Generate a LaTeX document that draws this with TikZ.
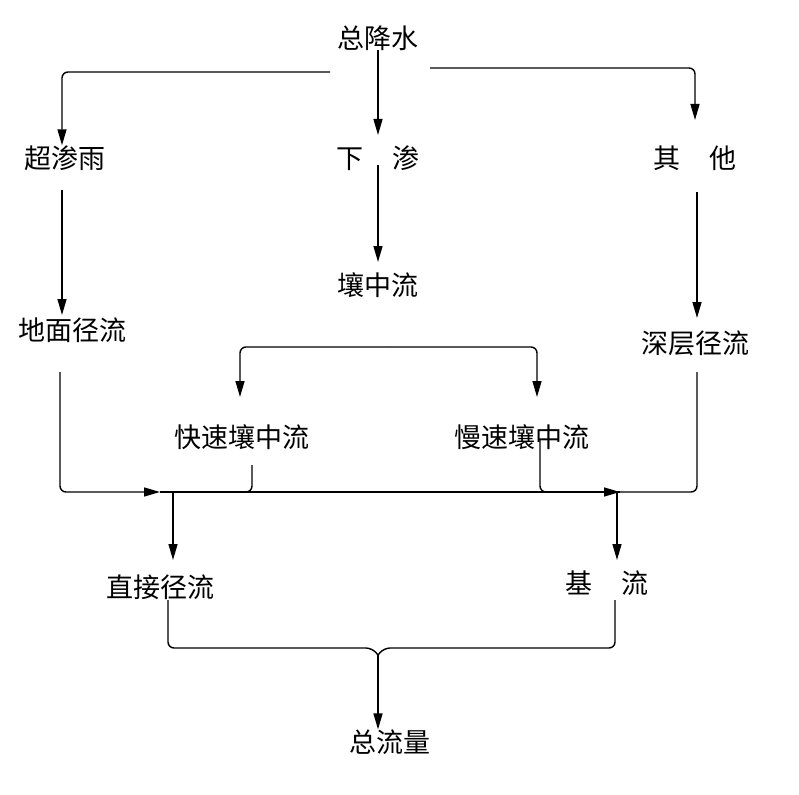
\documentclass[tikz,border=0pt]{standalone}
\usepackage{fontspec}
\setmainfont{Noto Sans CJK SC}
\usetikzlibrary{arrows.meta}
\begin{document}
\begin{tikzpicture}[x=1pt,y=-1pt,
  t/.style={font=\fontsize{27}{30}\selectfont,inner sep=0pt},
  ln/.style={line width=1.4pt,rounded corners=6pt},
  ar/.style={ln,-{Triangle[length=16pt,width=9pt]}}]
\useasboundingbox (0,0) rectangle (799,794);
\node[t] (tot) at (378,38) {总降水};
\node[t] (cs) at (65,158) {超渗雨};
\node[t] (xs) at (378,158) {下\hspace{1.1em}渗};
\node[t] (qt) at (695,158) {其\hspace{1.1em}他};
\node[t] (dm) at (72,330) {地面径流};
\node[t] (rz) at (378,285) {壤中流};
\node[t] (sc) at (695,343) {深层径流};
\node[t] (ks) at (242,437) {快速壤中流};
\node[t] (ms) at (522,437) {慢速壤中流};
\node[t] (zj) at (160,587) {直接径流};
\node[t] (jl) at (607,583) {基\hspace{1.1em}流};
\node[t] (zl) at (390,742) {总流量};
\coordinate (a1) at (330,72); \coordinate (a2) at (430,68);
\coordinate (lt) at (160,492); \coordinate (rt) at (620,492);
\coordinate (bt) at (378,655);
\draw[ar] (a1) -- (62,72) -- (cs.north -| 62,0);
\draw[ar] (378,50) -- (378,135);
\draw[ar] (a2) -- (695,68) -- (695,120);
\draw[ar] (62,190) -- (62,315);
\draw[ar] (378,165) -- (378,262);
\draw[ar] (697,192) -- (697,318);
\draw[ar] (390,347) -- (240,347) -- (240,397);
\draw[ar] (390,347) -- (537,347) -- (537,397);
\draw[ar] (60,372) -- (60,492) -- (lt);
\draw[ln] (252,465) -- (252,492) -- (240,492);
\draw[ln] (lt) -- (rt);
\draw[ar] (540,440) -- (540,492) -- (rt);
\draw[ln] (697,372) -- (697,492) -- (rt);
\draw[ar] (173,492) -- (173,560);
\draw[ar] (617,492) -- (617,560);
\draw[ln] (168,600) -- (168,648) -- (372,648) -- (bt);
\draw[ln] (615,600) -- (615,648) -- (384,648) -- (bt);
\draw[ar] (bt) -- (zl.north -| bt);
\end{tikzpicture}
\end{document}
